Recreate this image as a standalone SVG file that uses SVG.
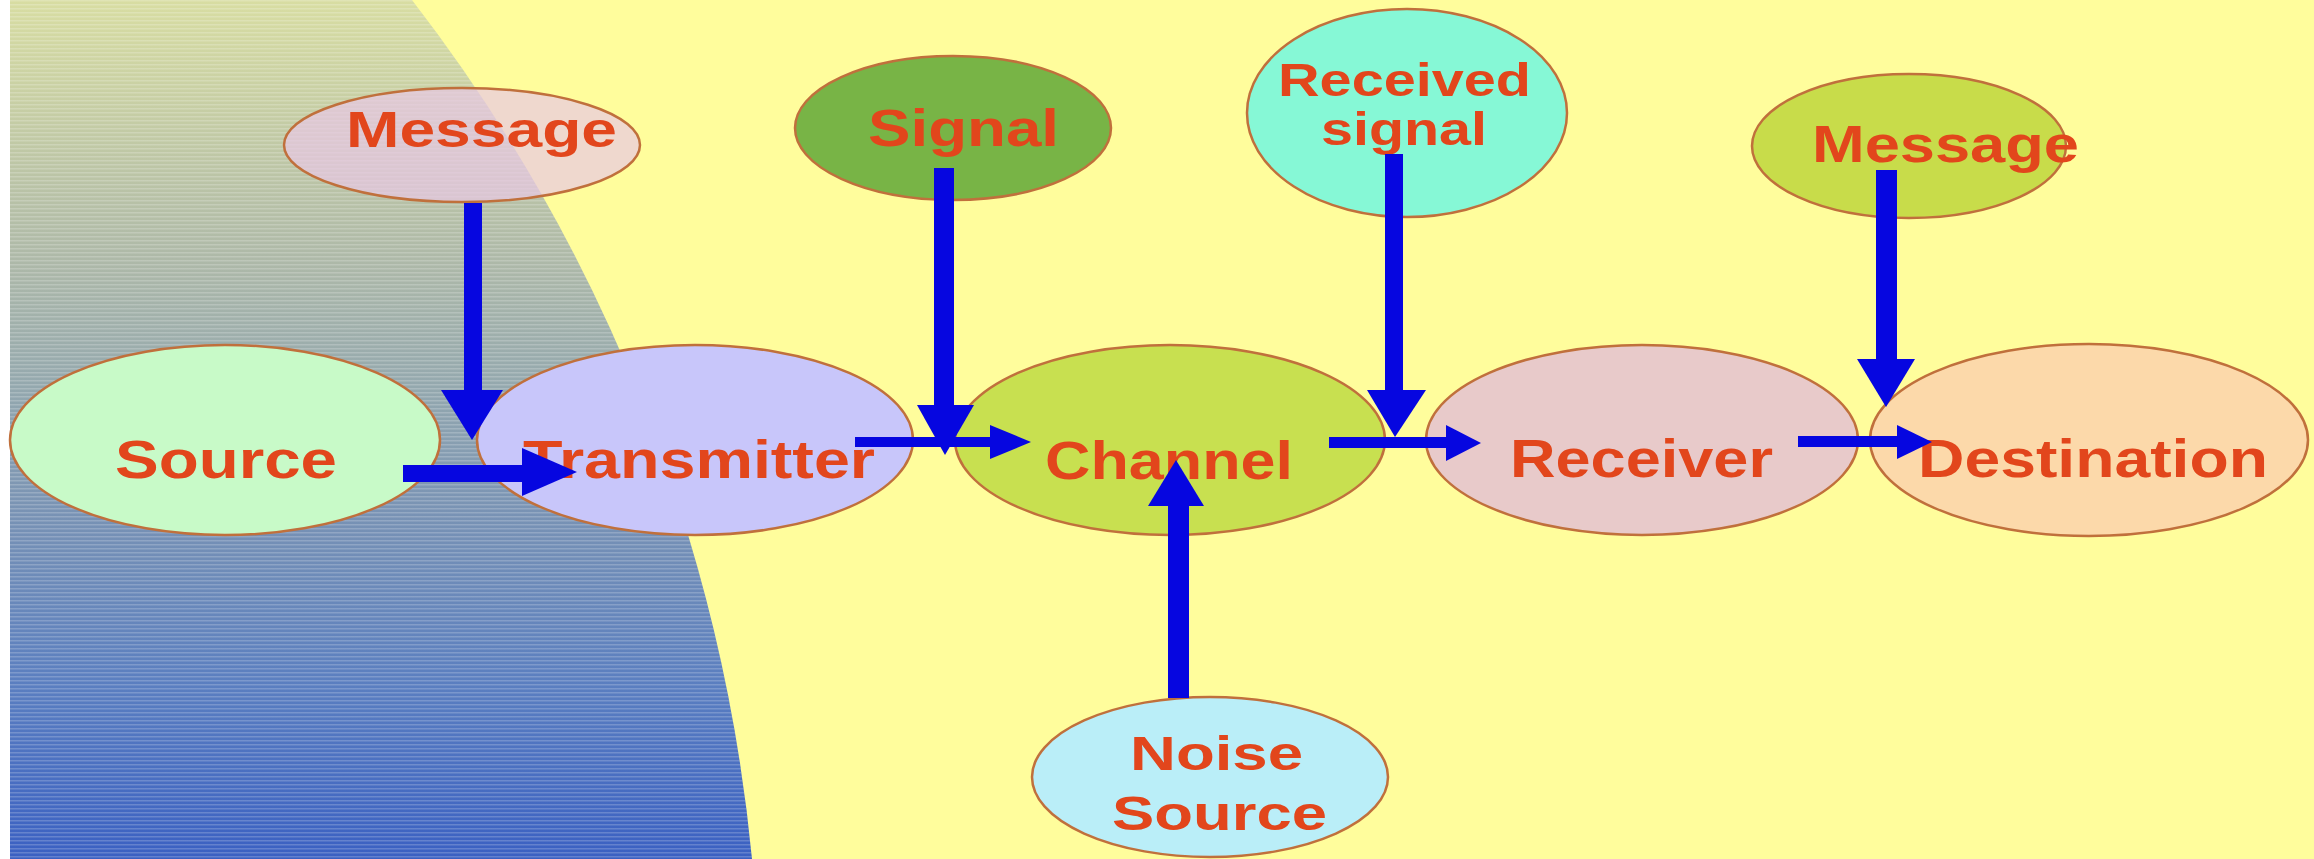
<svg xmlns="http://www.w3.org/2000/svg" width="2314" height="859" viewBox="0 0 2314 859">
  <defs>
    <linearGradient id="sweep" x1="0" y1="0" x2="0" y2="859" gradientUnits="userSpaceOnUse">
      <stop offset="0" stop-color="#D8DDA2"/>
      <stop offset="0.3" stop-color="#AEB9A8"/>
      <stop offset="0.45" stop-color="#94A8AE"/>
      <stop offset="0.6" stop-color="#7892B4"/>
      <stop offset="0.8" stop-color="#5A7EC0"/>
      <stop offset="1" stop-color="#3A60C2"/>
    </linearGradient>
    <pattern id="scan" width="8" height="4" patternUnits="userSpaceOnUse">
      <rect x="0" y="0" width="8" height="1.5" fill="#FFFFFF" opacity="0.2"/>
    </pattern>
  </defs>
  <style>
    .node { stroke: #C0703C; stroke-width: 2.5; }
    .label { font-family: "Liberation Sans", Arial, sans-serif; font-weight: bold; fill: #E2461C; }
    .flow { fill: #0606E0; stroke: none; }
  </style>

  <!-- backdrop -->
  <rect x="0" y="0" width="2314" height="859" fill="#FFFFFF"/>
  <rect x="10" y="0" width="2304" height="859" fill="#FFFD9C"/>
  <path d="M10 0 L412 0 A1663 1663 0 0 1 752 859 L10 859 Z" fill="url(#sweep)"/>
  <path d="M10 0 L412 0 A1663 1663 0 0 1 752 859 L10 859 Z" fill="url(#scan)"/>

  <g id="message-in">
    <ellipse class="node" cx="462" cy="145" rx="178" ry="57" fill="#E8C8E4" fill-opacity="0.7"/>
    <text class="label" x="346" y="147" font-size="50" textLength="271" lengthAdjust="spacingAndGlyphs">Message</text>
  </g>

  <g id="source">
    <ellipse class="node" cx="225" cy="440" rx="215" ry="95" fill="#C8FAC8"/>
    <text class="label" x="115" y="478" font-size="54" textLength="222" lengthAdjust="spacingAndGlyphs">Source</text>
  </g>

  <g id="transmitter">
    <ellipse class="node" cx="695" cy="440" rx="218" ry="95" fill="#C8C6FA"/>
    <text class="label" x="523" y="478" font-size="54" textLength="352" lengthAdjust="spacingAndGlyphs">Transmitter</text>
  </g>

  <g id="signal">
    <ellipse class="node" cx="953" cy="128" rx="158" ry="72" fill="#78B446"/>
    <text class="label" x="868" y="146" font-size="52" textLength="191" lengthAdjust="spacingAndGlyphs">Signal</text>
  </g>

  <g id="channel">
    <ellipse class="node" cx="1170" cy="440" rx="215" ry="95" fill="#C8E050"/>
    <text class="label" x="1045" y="479" font-size="54" textLength="248" lengthAdjust="spacingAndGlyphs">Channel</text>
  </g>

  <g id="received-signal">
    <ellipse class="node" cx="1407" cy="113" rx="160" ry="104" fill="#86F8D6"/>
    <text class="label" x="1278" y="96" font-size="46" textLength="253" lengthAdjust="spacingAndGlyphs">Received</text>
    <text class="label" x="1321" y="145" font-size="46" textLength="166" lengthAdjust="spacingAndGlyphs">signal</text>
  </g>

  <g id="receiver">
    <ellipse class="node" cx="1642" cy="440" rx="216" ry="95" fill="#E8CACA"/>
    <text class="label" x="1510" y="477" font-size="54" textLength="263" lengthAdjust="spacingAndGlyphs">Receiver</text>
  </g>

  <g id="message-out">
    <ellipse class="node" cx="1909" cy="146" rx="157" ry="72" fill="#C8DC4A"/>
    <text class="label" x="1812" y="162" font-size="52" textLength="267" lengthAdjust="spacingAndGlyphs">Message</text>
  </g>

  <g id="destination">
    <ellipse class="node" cx="2089" cy="440" rx="219" ry="96" fill="#FCD9AA"/>
    <text class="label" x="1918" y="477" font-size="54" textLength="350" lengthAdjust="spacingAndGlyphs">Destination</text>
  </g>

  <g id="noise-source">
    <ellipse class="node" cx="1210" cy="777" rx="178" ry="80" fill="#BAEEF8"/>
    <text class="label" x="1130" y="770" font-size="49" textLength="173" lengthAdjust="spacingAndGlyphs">Noise</text>
    <text class="label" x="1112" y="830" font-size="49" textLength="215" lengthAdjust="spacingAndGlyphs">Source</text>
  </g>

  <g id="connectors">
    <!-- message into transmitter -->
    <rect class="flow" x="464" y="203" width="18" height="190"/>
    <polygon class="flow" points="441,390 503,390 472,440"/>
    <!-- source to transmitter -->
    <rect class="flow" x="403" y="465" width="127" height="17"/>
    <polygon class="flow" points="522,448 577,472 522,496"/>
    <!-- signal into channel -->
    <rect class="flow" x="934" y="168" width="20" height="240"/>
    <polygon class="flow" points="917,405 974,405 945,455"/>
    <!-- transmitter to channel -->
    <rect class="flow" x="855" y="437" width="140" height="10"/>
    <polygon class="flow" points="990,425 1031,442 990,459"/>
    <!-- received signal into receiver -->
    <rect class="flow" x="1385" y="154" width="18" height="238"/>
    <polygon class="flow" points="1367,390 1426,390 1395,437"/>
    <!-- channel to receiver -->
    <rect class="flow" x="1329" y="437" width="121" height="11"/>
    <polygon class="flow" points="1446,425 1481,443 1446,461"/>
    <!-- noise into channel -->
    <rect class="flow" x="1168" y="503" width="21" height="195"/>
    <polygon class="flow" points="1148,506 1204,506 1176,460"/>
    <!-- message out of receiver -->
    <rect class="flow" x="1876" y="170" width="21" height="191"/>
    <polygon class="flow" points="1857,359 1915,359 1886,407"/>
    <!-- receiver to destination -->
    <rect class="flow" x="1798" y="436" width="103" height="11"/>
    <polygon class="flow" points="1897,425 1932,442 1897,459"/>
  </g>
</svg>
